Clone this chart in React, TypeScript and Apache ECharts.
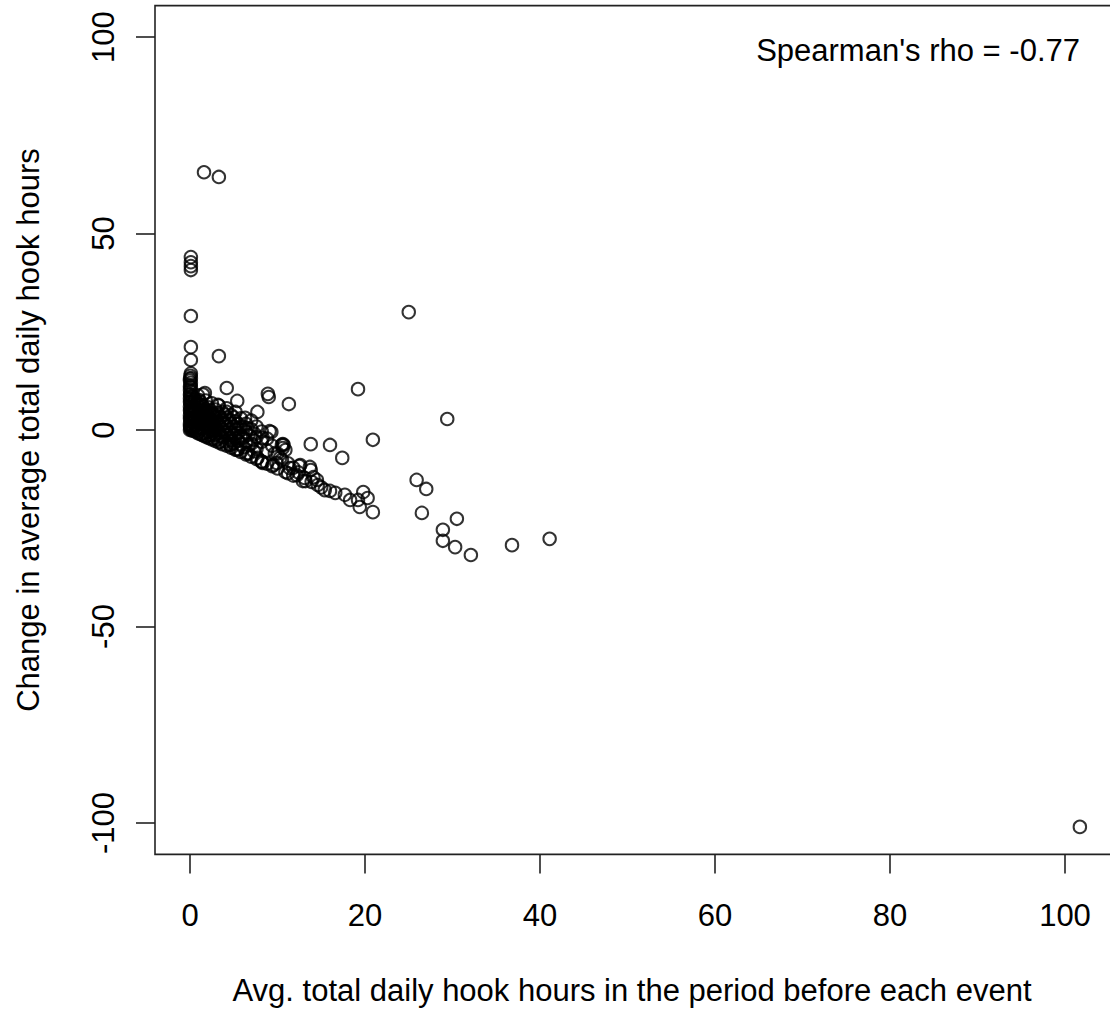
import React, { useEffect, useRef } from "react";
import * as echarts from "echarts";

// [avg daily hook hours before event, change in avg daily hook hours]
const outlierPoints: number[][] = [
  [1.6, 65.6], [3.3, 64.4], [0.1, 44.0], [0.1, 42.7], [0.1, 41.7], [0.1, 40.7],
  [0.1, 29.0], [0.1, 21.1], [0.1, 17.8], [3.3, 18.8], [25.0, 30.0], [19.2, 10.4],
  [29.4, 2.8], [20.9, -2.5], [4.2, 10.7], [8.9, 9.2], [11.3, 6.6], [1.7, 9.4],
  [5.4, 7.4], [3.2, 6.4], [7.7, 4.6], [4.2, 4.6], [6.3, 3.1], [13.8, -3.6],
  [16.0, -3.8], [17.4, -7.1], [10.7, -3.8], [10.6, -4.6], [9.3, -0.5],
  [25.9, -12.7], [27.0, -15.0], [26.5, -21.1], [30.5, -22.6], [28.9, -25.4],
  [28.9, -28.2], [30.3, -29.8], [32.1, -31.8], [36.8, -29.3], [41.1, -27.7],
  [101.7, -101.0],
];

const zeroColumnPoints: number[][] = [
  [0.1, 14.4], [0.05, 13.8], [0.1, 13.2], [0.0, 12.6], [0.1, 12.0], [0.05, 11.4],
  [0.1, 10.8], [0.0, 10.2], [0.1, 9.7], [0.05, 9.1], [0.1, 8.6], [0.0, 8.0],
  [0.1, 7.5], [0.05, 7.0], [0.1, 6.4], [0.0, 5.9], [0.1, 5.3], [0.05, 4.8],
  [0.1, 4.2], [0.0, 3.7], [0.1, 3.1], [0.05, 2.6], [0.1, 2.1], [0.0, 1.6],
  [0.1, 1.1], [0.05, 0.6], [0.1, 0.2], [0.0, 13.0], [0.0, 11.0], [0.0, 9.0],
  [0.0, 7.2], [0.0, 5.0], [0.0, 3.0], [0.0, 1.0], [0.0, 0.0],
];

const clusterPoints: number[][] = [
  [0.3, 8.5], [0.3, 6.0], [0.3, 4.0], [0.3, 2.0], [0.3, 0.5], [0.3, -0.2],
  [0.6, 7.8], [0.6, 5.2], [0.6, 3.0], [0.6, 1.2], [0.6, -0.4],
  [0.9, 8.8], [0.9, 6.5], [0.9, 4.2], [0.9, 2.4], [0.9, 0.6], [0.9, -0.8],
  [1.2, 7.2], [1.2, 5.0], [1.2, 3.1], [1.2, 1.3], [1.2, -1.1],
  [1.5, 9.0], [1.5, 6.0], [1.5, 3.8], [1.5, 2.0], [1.5, 0.2], [1.5, -1.4],
  [1.8, 7.5], [1.8, 4.8], [1.8, 2.8], [1.8, 0.9], [1.8, -1.7],
  [2.1, 5.8], [2.1, 3.5], [2.1, 1.4], [2.1, -0.5], [2.1, -2.0],
  [2.5, 6.8], [2.5, 4.3], [2.5, 2.2], [2.5, 0.3], [2.5, -2.4],
  [2.9, 5.2], [2.9, 3.0], [2.9, 0.8], [2.9, -1.2], [2.9, -2.8],
  [3.3, 6.2], [3.3, 3.8], [3.3, 1.5], [3.3, -0.6], [3.3, -3.2],
  [3.7, 4.6], [3.7, 2.4], [3.7, 0.0], [3.7, -1.8], [3.7, -3.6],
  [4.2, 5.5], [4.2, 3.1], [4.2, 0.9], [4.2, -1.3], [4.2, -4.0],
  [4.7, 3.8], [4.7, 1.6], [4.7, -0.8], [4.7, -2.6], [4.7, -4.5],
  [5.2, 4.6], [5.2, 2.2], [5.2, 0.0], [5.2, -2.0], [5.2, -5.0],
  [5.8, 3.0], [5.8, 0.6], [5.8, -1.6], [5.8, -3.6], [5.8, -5.6],
  [6.4, 1.6], [6.4, -0.5], [6.4, -2.8], [6.4, -6.2],
  [7.0, 2.4], [7.0, 0.2], [7.0, -3.5], [7.0, -6.8],
  [7.6, 0.9], [7.6, -1.8], [7.6, -4.8], [7.6, -7.4],
  [8.2, -0.4], [8.2, -3.0], [8.2, -8.0],
  [8.8, -2.2], [8.8, -5.2], [8.8, -8.6],
  [9.4, -4.0], [9.4, -9.2], [10.0, -6.0], [10.0, -9.8],
  [10.5, -3.8], [10.5, -7.6], [11.2, -8.5], [11.2, -11.0],
  [11.8, -9.6], [11.8, -11.6], [12.4, -10.8], [13.2, -13.0],
  [15.0, -14.6], [16.0, -15.5],
];

const denseFillPoints: number[][] = [
  [0.4, 7.0], [0.4, 5.0], [0.4, 3.0], [0.4, 1.0], [0.75, 6.8], [0.75, 4.6],
  [0.75, 2.0], [0.75, 0.0], [1.05, 7.6], [1.05, 5.6], [1.05, 3.6], [1.05, 1.8],
  [1.05, -0.4], [1.35, 6.4], [1.35, 4.4], [1.35, 2.6], [1.35, 0.8], [1.35, -1.0],
  [1.65, 5.2], [1.65, 3.3], [1.65, 1.4], [1.65, -0.6], [2.0, 4.4], [2.0, 2.5],
  [2.0, 0.5], [2.0, -1.5], [2.3, 5.0], [2.3, 2.9], [2.3, 0.9], [2.3, -1.2],
  [2.7, 4.0], [2.7, 1.8], [2.7, -0.2], [2.7, -2.2], [3.1, 4.4], [3.1, 2.1],
  [3.1, 0.0], [3.1, -2.3], [3.5, 3.2], [3.5, 0.8], [3.5, -1.4], [3.5, -3.0],
  [4.0, 3.9], [4.0, 1.8], [4.0, -0.5], [4.0, -2.8], [4.5, 2.6], [4.5, 0.2],
  [4.5, -1.9], [4.5, -3.6], [5.0, 3.2], [5.0, 0.9], [5.0, -1.2], [5.0, -3.4],
  [5.5, 1.6], [5.5, -0.8], [5.5, -2.8], [5.5, -4.8], [6.1, 0.8], [6.1, -1.9],
  [6.1, -4.4], [6.7, -1.2], [6.7, -3.9], [6.7, -6.0], [7.3, -2.6], [7.3, -5.4],
];

const bandPoints: number[][] = [
  [9.7, -5.9], [8.2, -8.1], [9.5, -8.9], [10.9, -10.7], [12.5, -9.2], [13.8, -10.2],
  [12.9, -13.0], [14.5, -12.7], [14.6, -14.0], [15.4, -15.3], [16.6, -16.0],
  [17.7, -16.5], [18.3, -17.8], [19.2, -17.8], [19.8, -15.8], [20.3, -17.3],
  [19.4, -19.6], [20.9, -20.9],
  [9.0, 8.4], [5.4, 0.5], [6.6, 0.5], [7.4, -1.0], [9.1, -0.3], [8.3, -2.0],
  [10.6, -3.6], [10.9, -5.1], [4.6, -3.8], [5.4, -5.1], [6.5, -5.9], [7.7, -7.1],
  [8.3, -8.4], [9.9, -8.4], [10.3, -7.1], [11.4, -9.7], [12.6, -8.9], [13.7, -9.4],
  [12.2, -11.5], [13.1, -12.2], [14.1, -12.0], [13.9, -13.2],
];

const xTicks = [0, 20, 40, 60, 80, 100];
const yTicks = [-100, -50, 0, 50, 100];

const xTitle = "Avg. total daily hook hours in the period before each event";
const yTitle = "Change in average total daily hook hours";
const statLabel = "Spearman's rho = -0.77";

const FONT = "'Liberation Sans', Arial, sans-serif";

export default function App() {
  const ref = useRef<HTMLDivElement>(null);
  useEffect(() => {
    if (!ref.current) return;
    const chart = echarts.init(ref.current, null, { renderer: "svg" });
    const allPoints = [
      ...outlierPoints,
      ...zeroColumnPoints,
      ...clusterPoints,
      ...denseFillPoints,
      ...bandPoints,
    ];
    chart.setOption({
      animation: false,
      backgroundColor: "#ffffff",
      grid: {
        left: 155,
        top: 5.6,
        right: 2.5,
        bottom: 159.6,
        show: true,
        borderColor: "#222",
        borderWidth: 1.6,
        backgroundColor: "transparent",
      },
      xAxis: {
        type: "value",
        min: -4,
        max: 106,
        axisLine: { show: false, onZero: false },
        splitLine: { show: false },
        axisTick: {
          show: true,
          inside: false,
          length: 19,
          customValues: xTicks,
          lineStyle: { color: "#222", width: 1.6 },
        },
        axisLabel: {
          customValues: xTicks,
          fontSize: 31,
          fontFamily: FONT,
          color: "#000",
          margin: 46,
        },
      },
      yAxis: {
        type: "value",
        min: -108,
        max: 108,
        axisLine: { show: false, onZero: false },
        splitLine: { show: false },
        axisTick: {
          show: true,
          inside: false,
          length: 19,
          customValues: yTicks,
          lineStyle: { color: "#222", width: 1.6 },
        },
        axisLabel: {
          customValues: yTicks,
          rotate: 90,
          fontSize: 31,
          fontFamily: FONT,
          color: "#000",
          margin: 36,
        },
      },
      series: [
        {
          type: "scatter",
          data: allPoints,
          symbol: "circle",
          symbolSize: 12.5,
          clip: false,
          itemStyle: {
            color: "rgba(0,0,0,0)",
            borderColor: "#000",
            borderWidth: 2,
          },
        },
      ],
      graphic: [
        {
          type: "text",
          x: 1080,
          y: 50,
          style: {
            text: statLabel,
            font: `31px ${FONT}`,
            fill: "#000",
            align: "right",
            verticalAlign: "middle",
          },
        },
        {
          type: "text",
          x: 632,
          y: 990,
          style: {
            text: xTitle,
            font: `31px ${FONT}`,
            fill: "#000",
            align: "center",
            verticalAlign: "middle",
          },
        },
        {
          type: "text",
          x: 28,
          y: 430,
          rotation: Math.PI / 2,
          style: {
            text: yTitle,
            font: `31px ${FONT}`,
            fill: "#000",
            align: "center",
            verticalAlign: "middle",
          },
        },
      ],
    });
    return () => chart.dispose();
  }, []);
  return (
    <div
      style={{
        position: "fixed",
        left: 0,
        top: 0,
        width: 1110,
        height: 1014,
        overflow: "hidden",
        background: "#fff",
      }}
    >
      <div ref={ref} style={{ width: 1120, height: 1014 }} />
    </div>
  );
}
